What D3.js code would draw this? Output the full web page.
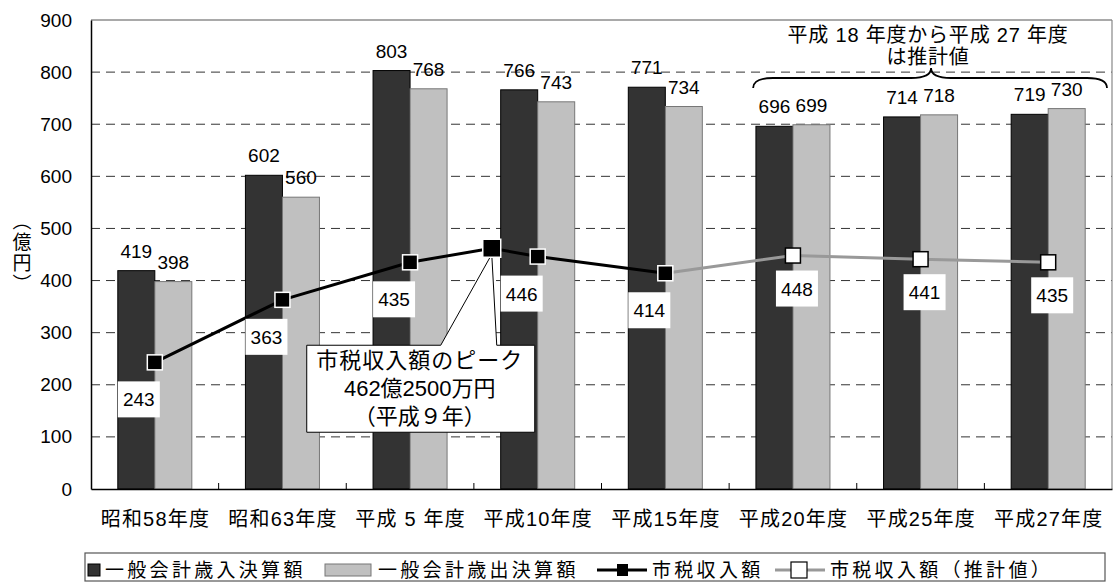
<!DOCTYPE html>
<html><head><meta charset="utf-8">
<script src="https://cdn.jsdelivr.net/npm/d3@7"></script>
<style>
html,body{margin:0;padding:0;background:#fff;}
svg{display:block;font-family:"Liberation Sans","Noto Sans CJK JP",sans-serif;}
</style></head>
<body><svg id="c" width="1117" height="583"></svg>
<script>
// ---- data ----
const categories = ["昭和58年度","昭和63年度","平成 5 年度","平成10年度","平成15年度","平成20年度","平成25年度","平成27年度"];
const revenue = [419, 602, 803, 766, 771, 696, 714, 719];     // 一般会計歳入決算額
const expenditure = [398, 560, 768, 743, 734, 699, 718, 730]; // 一般会計歳出決算額
// 市税収入額 (position in category units, value)
const taxPos = [0, 1, 2, 2.64, 3, 4];
const taxVal = [243, 363, 435, 462, 446, 414];
const taxShowLabel = [true, true, true, false, true, true];
// 市税収入額（推計値）
const estPos = [4, 5, 6, 7];
const estVal = [414, 448, 441, 435];
const estShowLabel = [false, true, true, true];
const yTicks = [0,100,200,300,400,500,600,700,800,900];
const legendLabels = ["一般会計歳入決算額","一般会計歳出決算額","市税収入額","市税収入額（推計値）"];
const peakText = ["市税収入額のピーク","462億2500万円","（平成９年）"];
const braceText = ["平成 18 年度から平成 27 年度","は推計値"];
const yTitle = "（億円）";

// ---- layout ----
const L = 91, R = 1112, T = 20, B = 489;
const svg = d3.select("#c");
const x = d3.scaleBand().domain(categories).range([L, R]).padding(0);
const bw = x.bandwidth();
const barW = bw * 0.29;
const xs = d3.scaleBand().domain(["rev","exp"]).range([bw/2 - barW, bw/2 + barW]);
const y = d3.scaleLinear().domain([0, 900]).range([B, T]);
const xc = d3.scaleLinear().domain([0, 1]).range([L + bw/2, L + bw*1.5]); // category-unit positions

// gridlines
svg.append("g").selectAll("line").data(yTicks.filter(d => d > 0 && d < 900)).join("line")
  .attr("x1", L).attr("x2", R).attr("y1", d => y(d)).attr("y2", d => y(d))
  .attr("stroke", "#333").attr("stroke-width", 1).attr("stroke-dasharray", "9,6");

// frame (top/right)
svg.append("line").attr("x1", L).attr("x2", R).attr("y1", T).attr("y2", T).attr("stroke", "#555").attr("stroke-width", 1.2);
svg.append("line").attr("x1", R).attr("x2", R).attr("y1", T).attr("y2", B).attr("stroke", "#888").attr("stroke-width", 1.2);

// bars
const g = svg.append("g");
categories.forEach((c, i) => {
  g.append("rect").attr("x", x(c) + xs("rev")).attr("y", y(revenue[i])).attr("width", xs.bandwidth()).attr("height", y(0) - y(revenue[i]))
    .attr("fill", "#333333").attr("stroke", "#000").attr("stroke-width", 1);
  g.append("rect").attr("x", x(c) + xs("exp")).attr("y", y(expenditure[i])).attr("width", xs.bandwidth()).attr("height", y(0) - y(expenditure[i]))
    .attr("fill", "#c0c0c0").attr("stroke", "#777").attr("stroke-width", 1);
});
// bar labels
const lblFont = 19;
categories.forEach((c, i) => {
  svg.append("text").attr("x", x(c) + xs("rev") + xs.bandwidth()/2).attr("y", y(revenue[i]) - 13)
    .attr("text-anchor", "middle").attr("font-size", lblFont).text(revenue[i]);
  svg.append("text").attr("x", x(c) + xs("exp") + xs.bandwidth()/2).attr("y", y(expenditure[i]) - 13)
    .attr("text-anchor", "middle").attr("font-size", lblFont).text(expenditure[i]);
});

// axes
const yAxis = svg.append("g").attr("transform", `translate(${L},0)`)
  .call(d3.axisLeft(y).tickValues(yTicks).tickSize(0).tickPadding(19));
yAxis.select(".domain").attr("stroke", "#000").attr("stroke-width", 1.5);
yAxis.selectAll("text").attr("font-size", 19).attr("fill", "#000").attr("font-family", "Liberation Sans");
const xAxis = svg.append("g").attr("transform", `translate(0,${B})`)
  .call(d3.axisBottom(x).tickSize(0).tickPadding(23));
xAxis.select(".domain").attr("stroke", "#000").attr("stroke-width", 1.5);
xAxis.selectAll("text").attr("font-size", 20).attr("fill", "#000").attr("letter-spacing", 1.2)
  .attr("dx", 0.6).attr("font-family", "Liberation Sans, Noto Sans CJK JP");
// category boundary ticks (inside)
svg.append("g").selectAll("line").data(categories.slice(1)).join("line")
  .attr("x1", d => x(d)).attr("x2", d => x(d)).attr("y1", B).attr("y2", B - 6).attr("stroke", "#000");

// y axis title (vertical)
svg.append("text").attr("x", 22).attr("y", 211)
  .style("writing-mode", "vertical-rl").attr("font-size", 19).attr("font-family", "Noto Sans CJK JP")
  .attr("letter-spacing", 2).text(yTitle);

// lines
const lineGen = d3.line().x(d => xc(d[0])).y(d => y(d[1]));
const estPts = estPos.map((p, i) => [p, estVal[i]]);
const taxPts = taxPos.map((p, i) => [p, taxVal[i]]);
svg.append("path").attr("d", lineGen(estPts)).attr("fill", "none").attr("stroke", "#999").attr("stroke-width", 3);
svg.append("path").attr("d", lineGen(taxPts)).attr("fill", "none").attr("stroke", "#000").attr("stroke-width", 3);

// callout (peak)
const peakIdx = taxVal.indexOf(d3.max(taxVal));
const px = xc(taxPos[peakIdx]), py = y(taxVal[peakIdx]);
const bx0 = px - 185, bx1 = px + 43, by0 = py + 97, by1 = py + 184;
svg.append("path")
  .attr("d", `M${bx0},${by0} L${px - 51},${by0} L${px},${py + 6} L${px + 5},${by0} L${bx1},${by0} L${bx1},${by1} L${bx0},${by1} Z`)
  .attr("fill", "#fff").attr("stroke", "#000").attr("stroke-width", 1);
peakText.forEach((t, i) => {
  svg.append("text").attr("x", (bx0 + bx1) / 2 - 1).attr("y", by0 + 23 + i * 28).attr("text-anchor", "middle")
    .attr("font-size", 22).attr("letter-spacing", i === 0 ? 1 : 0).text(t);
});

// markers
const ms = 15;
svg.append("g").selectAll("rect").data(estPts.slice(1)).join("rect")
  .attr("x", d => xc(d[0]) - ms/2).attr("y", d => y(d[1]) - ms/2).attr("width", ms).attr("height", ms)
  .attr("fill", "#fff").attr("stroke", "#000").attr("stroke-width", 1.5);
svg.append("g").selectAll("rect").data(taxPts).join("rect")
  .attr("x", (d, i) => xc(d[0]) - (i === peakIdx ? 9 : ms/2)).attr("y", (d, i) => y(d[1]) - (i === peakIdx ? 9 : ms/2))
  .attr("width", (d, i) => i === peakIdx ? 18 : ms).attr("height", (d, i) => i === peakIdx ? 18 : ms)
  .attr("fill", "#000").attr("stroke", "#fff").attr("stroke-width", 1.5);

// point labels (white boxes)
function ptLabel(p, v, dx, dy) {
  const cx = xc(p) + dx, cy = y(v) + dy;
  svg.append("rect").attr("x", cx - 21).attr("y", cy - 18).attr("width", 42).attr("height", 36).attr("fill", "#fff");
  svg.append("text").attr("x", cx).attr("y", cy + 7).attr("text-anchor", "middle").attr("font-size", lblFont).text(v);
}
taxPts.forEach((d, i) => { if (taxShowLabel[i]) ptLabel(d[0], d[1], -16, 37); });
estPts.forEach((d, i) => { if (estShowLabel[i]) ptLabel(d[0], d[1], 4, 33); });

// brace annotation
const bL = x(categories[5]) + 24, bR = R - 5, bM = (bL + bR) / 2 + 1;
const yb = 78;
svg.append("path")
  .attr("d", `M${bL},${yb + 10} Q${bL},${yb} ${bL + 20},${yb} L${bM - 20},${yb} Q${bM},${yb} ${bM},${yb - 10} Q${bM},${yb} ${bM + 20},${yb} L${bR - 20},${yb} Q${bR},${yb} ${bR},${yb + 10}`)
  .attr("fill", "none").attr("stroke", "#000").attr("stroke-width", 1.8);
braceText.forEach((t, i) => {
  svg.append("text").attr("x", bM - 3).attr("y", 42 + i * 22).attr("text-anchor", "middle")
    .attr("font-size", 20).attr("letter-spacing", 0.8).text(t);
});

// legend
const lg = svg.append("g");
const lgY0 = 553, lgY1 = 581, lgC = 570;
lg.append("rect").attr("x", 85).attr("y", lgY0).attr("width", 1020).attr("height", lgY1 - lgY0)
  .attr("fill", "#fff").attr("stroke", "#555").attr("stroke-width", 1.2);
const lgFont = 19, lgSpacing = 3.3;
// item 1
lg.append("rect").attr("x", 88).attr("y", lgC - 6).attr("width", 12).attr("height", 12).attr("fill", "#333").attr("stroke", "#000");
lg.append("text").attr("x", 105).attr("y", lgC + 7).attr("font-size", lgFont).attr("letter-spacing", lgSpacing).text(legendLabels[0]);
// item 2
lg.append("rect").attr("x", 325).attr("y", lgC - 6).attr("width", 46).attr("height", 12).attr("fill", "#c0c0c0").attr("stroke", "#777");
lg.append("text").attr("x", 378).attr("y", lgC + 7).attr("font-size", lgFont).attr("letter-spacing", lgSpacing).text(legendLabels[1]);
// item 3
lg.append("line").attr("x1", 597).attr("x2", 647).attr("y1", lgC).attr("y2", lgC).attr("stroke", "#000").attr("stroke-width", 3);
lg.append("rect").attr("x", 617).attr("y", lgC - 6).attr("width", 11).attr("height", 12).attr("fill", "#000");
lg.append("text").attr("x", 652).attr("y", lgC + 7).attr("font-size", lgFont).attr("letter-spacing", lgSpacing).text(legendLabels[2]);
// item 4
lg.append("line").attr("x1", 775).attr("x2", 825).attr("y1", lgC).attr("y2", lgC).attr("stroke", "#999").attr("stroke-width", 3);
lg.append("rect").attr("x", 791).attr("y", lgC - 8).attr("width", 16).attr("height", 16).attr("fill", "#fff").attr("stroke", "#000").attr("stroke-width", 1.2);
lg.append("text").attr("x", 830).attr("y", lgC + 7).attr("font-size", lgFont).attr("letter-spacing", lgSpacing).text(legendLabels[3]);
</script></body></html>
